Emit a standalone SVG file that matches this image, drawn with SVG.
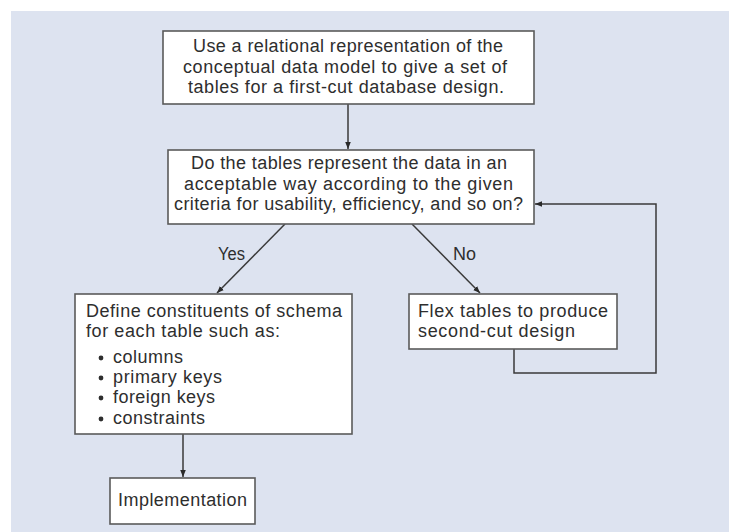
<svg xmlns="http://www.w3.org/2000/svg" width="729" height="532" viewBox="0 0 729 532">
<style>
.box{fill:#ffffff;stroke:#5a5a5a;stroke-width:1.6}
.t{font-family:"Liberation Sans",Arial,sans-serif;font-size:18px;fill:#2e2e2e}
.ln{fill:none;stroke:#3a3a3a;stroke-width:1.5}
</style>
<defs>
<marker id="ah" viewBox="0 0 10 10" refX="10" refY="5" markerWidth="7" markerHeight="7" orient="auto-start-reverse" markerUnits="userSpaceOnUse">
<path d="M0,1 L10,5 L0,9 z" fill="#2a2a2a"/>
</marker>
</defs>
<rect x="11" y="11" width="718" height="521" fill="#dde3f0"/>
<g id="connectors">
<line class="ln" x1="348" y1="104" x2="348" y2="149" marker-end="url(#ah)"/>
<line class="ln" x1="285" y1="224" x2="217" y2="293" marker-end="url(#ah)"/>
<line class="ln" x1="412" y1="224" x2="480" y2="293" marker-end="url(#ah)"/>
<line class="ln" x1="183" y1="434" x2="183" y2="477" marker-end="url(#ah)"/>
<polyline class="ln" points="514,349 514,373 656,373 656,204 535,204" marker-end="url(#ah)"/>
<text class="t" x="218" y="260" textLength="27" lengthAdjust="spacingAndGlyphs">Yes</text>
<text class="t" x="453" y="260" textLength="23" lengthAdjust="spacingAndGlyphs">No</text>
</g>
<g id="n1">
<rect class="box" x="163" y="31" width="371" height="73"/>
<text class="t" x="193" y="52" textLength="310">Use a relational representation of the</text>
<text class="t" x="183" y="72.5" textLength="324">conceptual data model to give a set of</text>
<text class="t" x="188" y="93" textLength="316">tables for a first-cut database design.</text>
</g>
<g id="n2">
<rect class="box" x="168" y="150" width="366" height="74"/>
<text class="t" x="191" y="169" textLength="316">Do the tables represent the data in an</text>
<text class="t" x="184" y="189.5" textLength="329">acceptable way according to the given</text>
<text class="t" x="174" y="210" textLength="349">criteria for usability, efficiency, and so on?</text>
</g>
<g id="n3">
<rect class="box" x="75" y="294" width="277" height="140"/>
<text class="t" x="86" y="317" textLength="256">Define constituents of schema</text>
<text class="t" x="86" y="337" textLength="194">for each table such as:</text>
<circle cx="101" cy="358" r="2.4" fill="#2e2e2e"/>
<text class="t" x="113" y="363" textLength="70">columns</text>
<circle cx="101" cy="378" r="2.4" fill="#2e2e2e"/>
<text class="t" x="113" y="383" textLength="109">primary keys</text>
<circle cx="101" cy="398" r="2.4" fill="#2e2e2e"/>
<text class="t" x="113" y="403" textLength="102">foreign keys</text>
<circle cx="101" cy="419" r="2.4" fill="#2e2e2e"/>
<text class="t" x="113" y="424" textLength="92">constraints</text>
</g>
<g id="n4">
<rect class="box" x="409" y="294" width="208" height="55"/>
<text class="t" x="418" y="317" textLength="190">Flex tables to produce</text>
<text class="t" x="418" y="337" textLength="157">second-cut design</text>
</g>
<g id="n5">
<rect class="box" x="110" y="478" width="145" height="46"/>
<text class="t" x="118" y="506" textLength="129">Implementation</text>
</g>
</svg>
